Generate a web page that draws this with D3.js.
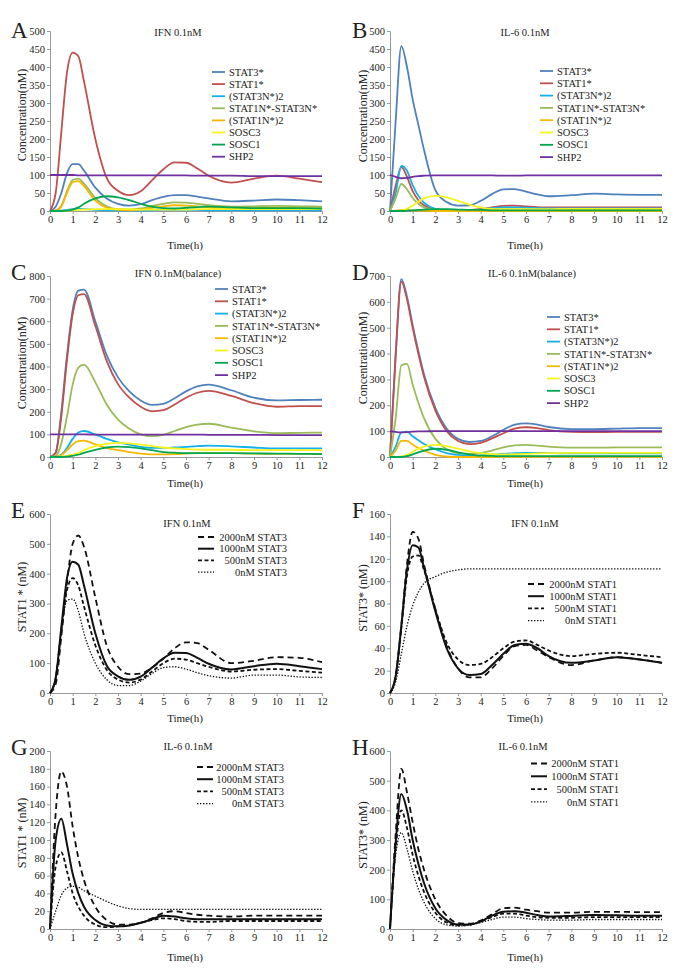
<!DOCTYPE html>
<html><head><meta charset="utf-8">
<script src="https://cdn.jsdelivr.net/npm/d3@7"></script>
<style>
body{margin:0;background:#fff}
svg{display:block}
text{font-family:"Liberation Serif","Times New Roman",serif;fill:#222}
</style>
</head><body>
<svg id="chart" width="685" height="977"></svg>
<script>
// ---------- data ----------
const T = [0,0.25,0.5,0.75,1,1.25,1.5,2,2.5,3,3.5,4,4.5,5,5.5,6,6.5,7,8,9,10,11,12];
const xTicks = [0,1,2,3,4,5,6,7,8,9,10,11,12];

const species = ["STAT3*","STAT1*","(STAT3N*)2","STAT1N*-STAT3N*","(STAT1N*)2","SOSC3","SOSC1","SHP2"];
const speciesColors = ["#4f81bd","#c0504d","#14b0ea","#9bbb59","#f5b800","#f4f41c","#00a650","#7030a0"];

// Panel A: IFN 0.1nM
const aStat3   = [0,12,50,105,130,130,112,65,35,20,15,19,30,39,44,44,40,35,27,29,32,30,27];
const aStat1   = [0,50,220,385,440,430,360,200,92,56,44,55,85,116,135,134,118,98,79,90,98,90,80];
const aStat3N2 = [0,0,1,3,5,6,5,3,2,1,1,1,2,3,3,3,3,2,2,2,2,2,2];
const aHetero  = [0,2,15,55,86,90,76,36,13,5,4,7,14,20,24,23,20,16,12,13,14,13,12];
const aStat1N2 = [0,1,12,50,80,83,69,29,9,3,2,4,9,13,16,15,13,10,7,8,9,8,7];
const aSosc3   = [0,0,0,1,2,3,4,5,5,5,5,4,4,4,4,4,5,5,5,5,5,5,5];
const aSosc1   = [0,0,0,1,4,10,20,35,41,38,30,20,12,8,7,9,11,12,10,8,8,8,7];
const aShp2    = [100,100,100,100,100,99,99,99,99,99,99,99,99,99,99,99,98,98,98,97,97,97,97];

// Panel B: IL-6 0.1nM
const bStat3   = [0,250,458,400,310,240,170,58,25,15,16,28,47,60,61,54,46,41,44,48,46,45,45];
const bStat1   = [0,70,122,95,55,30,16,5,2,2,3,6,10,14,15,13,11,10,10,10,10,10,10];
const bStat3N2 = [0,50,125,112,72,42,23,6,2,2,2,4,8,10,10,9,8,7,7,7,7,7,7];
const bHetero  = [0,35,75,60,36,20,10,3,1,1,1,2,3,4,4,4,3,3,3,3,3,3,3];
const bStat1N2 = [0,1,3,3,2,1,1,0,0,0,0,0,0,0,0,0,0,0,0,0,0,0,0];
const bSosc3   = [0,0,1,6,15,26,35,42,38,28,18,10,6,5,5,5,5,5,6,6,6,6,6];
const bSosc1   = [0,0,0,1,2,3,4,5,5,4,3,3,2,2,2,2,2,2,2,2,2,2,2];
const bShp2    = [100,95,91,92,95,97,98,99,99,99,99,99,99,98,98,99,99,99,99,99,99,99,99];

// Panel C: IFN 0.1nM (balance)
const cStat3   = [0,20,200,450,650,735,740,600,450,352,290,250,230,235,260,290,312,320,295,262,250,252,253];
const cStat1   = [0,18,180,430,630,715,720,580,425,322,262,222,202,207,232,262,284,292,270,238,222,225,225];
const cStat3N2 = [0,1,10,40,80,108,115,100,80,65,55,45,40,40,42,45,48,50,47,42,38,38,38];
const cHetero  = [0,5,60,180,320,395,408,330,232,165,125,100,92,98,115,132,143,147,130,113,105,107,108];
const cStat1N2 = [0,1,8,30,55,70,72,56,40,30,22,15,12,12,13,15,17,18,17,15,14,14,14];
const cSosc3   = [0,0,2,5,10,18,30,48,58,62,60,55,48,42,38,35,33,32,32,30,30,30,30];
const cSosc1   = [0,0,0,2,5,10,18,32,42,46,44,38,30,22,19,17,17,17,17,16,15,14,13];
const cShp2    = [100,100,100,100,100,100,100,99,99,99,99,99,99,99,99,99,99,98,98,98,97,97,97];

// Panel D: IL-6 0.1nM (balance)
const dStat3   = [0,400,688,620,510,410,320,190,110,70,58,62,80,105,125,130,125,116,108,108,110,112,112];
const dStat1   = [0,390,678,610,500,400,310,180,100,62,50,55,72,92,110,115,112,104,97,96,97,97,97];
const dStat3N2 = [0,40,95,98,80,65,50,30,15,8,5,6,9,12,15,16,16,15,14,14,14,14,14];
const dHetero  = [0,150,355,360,280,210,150,70,30,15,12,15,25,37,45,47,44,40,36,36,37,37,37];
const dStat1N2 = [0,25,62,62,48,35,25,8,2,0,0,0,0,1,1,1,1,1,1,1,1,1,1];
const dSosc3   = [0,0,2,8,20,32,40,47,42,32,22,15,11,10,11,12,14,15,16,16,16,16,16];
const dSosc1   = [0,0,0,3,10,18,25,32,28,18,10,5,4,3,3,3,3,3,3,3,3,3,3];
const dShp2    = [100,97,95,96,98,99,99,100,100,100,100,100,100,100,100,100,100,100,100,100,100,100,100];

// Panels E-H: total STAT levels
const dosesStat3 = ["2000nM STAT3","1000nM STAT3","500nM STAT3","0nM STAT3"];
const dosesStat1 = ["2000nM STAT1","1000nM STAT1","500nM STAT1","0nM STAT1"];

const e2000 = [0,30,190,370,500,528,490,320,160,88,63,65,85,115,150,170,167,145,100,108,120,118,103];
const e1000 = [0,50,220,385,440,430,360,200,92,56,44,55,85,116,135,134,118,98,79,90,98,90,80];
const e500  = [0,50,210,345,385,360,290,160,78,45,35,45,72,100,115,112,100,88,72,78,80,74,68];
const e0    = [0,50,210,310,315,275,200,100,45,25,25,40,65,85,88,80,68,58,50,60,60,54,52];

const f2000 = [0,15,60,115,144,138,115,75,42,22,14,14,22,33,42,43,38,32,25,29,32,30,27];
const f1000 = [0,15,60,110,132,130,112,73,40,22,16,17,25,35,43,44,40,33,27,29,32,30,27];
const f500  = [0,15,58,105,122,123,110,75,45,30,25,26,32,40,46,47,43,38,33,35,36,34,32];
const f0    = [0,10,35,60,78,90,98,104,108,110,111,111,111,111,111,111,111,111,111,111,111,111,111];

const g2000 = [0,130,177,160,115,80,55,25,10,5,5,7,12,18,20,18,16,15,14,15,15,15,15];
const g1000 = [0,100,124,95,62,40,25,10,4,3,4,7,11,15,14,12,11,11,11,11,11,11,11];
const g500  = [0,70,86,65,40,25,15,5,2,3,4,7,10,12,11,9,8,8,9,9,9,9,9];
const g0    = [0,20,38,46,48,47,43,37,31,26,23,22,22,22,22,22,22,22,22,22,22,22,22];

const h2000 = [0,320,540,460,360,270,200,100,45,20,18,28,50,70,72,65,60,55,55,58,58,57,57];
const h1000 = [0,290,455,400,300,220,155,70,30,15,15,25,45,58,60,55,47,42,44,47,46,45,45];
const h500  = [0,270,400,340,250,180,125,55,22,12,15,25,40,52,52,45,40,38,38,40,40,40,40];
const h0    = [0,250,325,270,195,135,90,35,14,10,13,22,32,40,40,35,32,30,30,32,32,32,32];

// ---------- layout ----------
const colX = [[50,322],[390,662]];
const rowY = [[211,31],[457,276],[693,514],[929,751]];
const timeLabelY = [245,483,718,957];
const letterY = [38,280,518,755];
const titleY = [32,273,523,746];

const blackStyles = [
  {w:1.8, dash:"6,4"},
  {w:2.0, dash:null},
  {w:1.8, dash:"4,2.5"},
  {w:1.3, dash:"1.4,1.6"}
];

const panels = [
  {key:"A",col:0,row:0,yMax:500,yStep:50,title:"IFN 0.1nM",tx:178,ylab:"Concentration(nM)",yl:115,kind:"color",
   data:[aStat3,aStat1,aStat3N2,aHetero,aStat1N2,aSosc3,aSosc1,aShp2],leg:{x:212,y:72,dy:12.1}},
  {key:"B",col:1,row:0,yMax:500,yStep:50,title:"IL-6 0.1nM",tx:525,ylab:"Concentration(nM)",yl:116,kind:"color",
   data:[bStat3,bStat1,bStat3N2,bHetero,bStat1N2,bSosc3,bSosc1,bShp2],leg:{x:540,y:71,dy:12.3}},
  {key:"C",col:0,row:1,yMax:800,yStep:100,title:"IFN 0.1nM(balance)",tx:178,ylab:"Concentration(nM)",yl:363,kind:"color",
   data:[cStat3,cStat1,cStat3N2,cHetero,cStat1N2,cSosc3,cSosc1,cShp2],leg:{x:215,y:289,dy:12.3}},
  {key:"D",col:1,row:1,yMax:700,yStep:100,title:"IL-6 0.1nM(balance)",tx:532,ylab:"Concentration(nM)",yl:358,kind:"color",
   data:[dStat3,dStat1,dStat3N2,dHetero,dStat1N2,dSosc3,dSosc1,dShp2],leg:{x:547,y:317,dy:12.3}},
  {key:"E",col:0,row:2,yMax:600,yStep:100,title:"IFN 0.1nM",tx:187,ylab:"STAT1 * (nM)",yl:597,kind:"black",
   names:dosesStat3,data:[e2000,e1000,e500,e0],leg:{x:198,end:287,y:537,dy:11.7}},
  {key:"F",col:1,row:2,yMax:160,yStep:20,title:"IFN 0.1nM",tx:535,ylab:"STAT3* (nM)",yl:598,kind:"black",
   names:dosesStat1,data:[f2000,f1000,f500,f0],leg:{x:528,end:617,y:584,dy:12.2}},
  {key:"G",col:0,row:3,yMax:200,yStep:20,title:"IL-6 0.1nM",tx:188,ylab:"STAT1 * (nM)",yl:833,kind:"black",
   names:dosesStat3,data:[g2000,g1000,g500,g0],leg:{x:197,end:284,y:767,dy:12.2}},
  {key:"H",col:1,row:3,yMax:600,yStep:100,title:"IL-6 0.1nM",tx:523,ylab:"STAT3* (nM)",yl:835,kind:"black",
   names:dosesStat1,data:[h2000,h1000,h500,h0],leg:{x:531,end:619,y:763.5,dy:12.8}}
];

const svg = d3.select("#chart");

panels.forEach(p => {
  const [x0,x1] = colX[p.col];
  const [yb,yt] = rowY[p.row];
  const x = d3.scaleLinear().domain([0,12]).range([x0,x1]);
  const y = d3.scaleLinear().domain([0,p.yMax]).range([yb,yt]);
  const g = svg.append("g");

  // axes
  const xa = g.append("g").attr("transform",`translate(0,${yb})`)
    .call(d3.axisBottom(x).tickValues(xTicks).tickSize(3).tickPadding(2).tickFormat(d3.format("d")));
  const yTicks = d3.range(0,p.yMax+0.001,p.yStep);
  const ya = g.append("g").attr("transform",`translate(${x0},0)`)
    .call(d3.axisLeft(y).tickValues(yTicks).tickSize(3).tickPadding(2).tickFormat(d3.format("d")));
  [xa,ya].forEach(a=>{
    a.select(".domain").attr("stroke","#999").attr("stroke-width",1);
    a.selectAll(".tick line").attr("stroke","#999");
    a.selectAll("text").attr("font-size",10.5).attr("fill","#222")
      .style("font-family","'Liberation Serif','Times New Roman',serif");
  });

  // lines
  const line = d3.line().x((d,i)=>x(T[i])).y(d=>y(d)).curve(d3.curveMonotoneX);
  p.data.forEach((arr,i)=>{
    const path = g.append("path").datum(arr).attr("d",line).attr("fill","none");
    if(p.kind==="color"){
      path.attr("stroke",speciesColors[i]).attr("stroke-width",1.8);
    } else {
      const s = blackStyles[i];
      path.attr("stroke","#111").attr("stroke-width",s.w);
      if(s.dash) path.attr("stroke-dasharray",s.dash);
    }
  });

  // legend
  if(p.kind==="color"){
    species.forEach((name,i)=>{
      const ly = p.leg.y + i*p.leg.dy;
      g.append("line").attr("x1",p.leg.x).attr("x2",p.leg.x+13).attr("y1",ly).attr("y2",ly)
        .attr("stroke",speciesColors[i]).attr("stroke-width",1.8);
      g.append("text").attr("x",p.leg.x+17).attr("y",ly).attr("dy","0.35em")
        .attr("font-size",10.5).text(name);
    });
  } else {
    p.names.forEach((name,i)=>{
      const ly = p.leg.y + i*p.leg.dy;
      const s = blackStyles[i];
      const l = g.append("line").attr("x1",p.leg.x).attr("x2",p.leg.x+16).attr("y1",ly).attr("y2",ly)
        .attr("stroke","#111").attr("stroke-width",s.w);
      if(s.dash) l.attr("stroke-dasharray",s.dash);
      g.append("text").attr("x",p.leg.end).attr("y",ly).attr("dy","0.35em")
        .attr("text-anchor","end").attr("font-size",10.5).text(name);
    });
  }

  // titles & labels
  g.append("text").attr("x",p.tx).attr("y",titleY[p.row]).attr("dy","0.35em")
    .attr("text-anchor","middle").attr("font-size",10.5).text(p.title);
  g.append("text").attr("transform",`translate(${p.col?363:22},${p.yl}) rotate(-90)`)
    .attr("text-anchor","middle").attr("dy","0.35em").attr("font-size",12).attr("fill","#333").text(p.ylab);
  g.append("text").attr("x",p.col?525:185).attr("y",timeLabelY[p.row]).attr("dy","0.35em")
    .attr("text-anchor","middle").attr("font-size",11).attr("fill","#333").text("Time(h)");
  g.append("text").attr("x",p.col?352:11).attr("y",letterY[p.row])
    .attr("font-size",23).attr("fill","#111").text(p.key);
});
</script>
</body></html>
